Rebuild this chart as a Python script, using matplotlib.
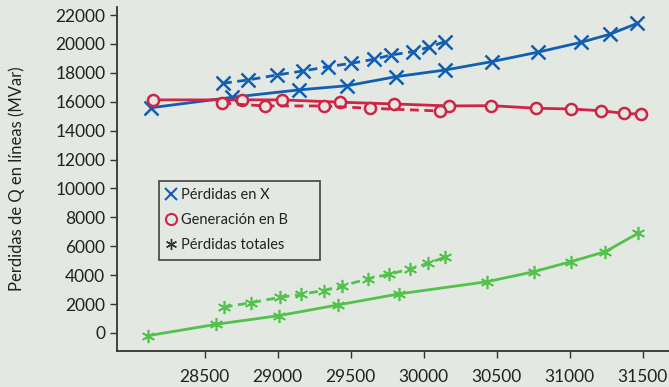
import matplotlib.pyplot as plt
from matplotlib.lines import Line2D

# Perdidas en X (solid / dashed)
x_px_sol = [28135, 28690, 29144, 29477, 29813, 30149, 30468, 30781, 31080, 31274, 31464]
y_px_sol = [15590, 16310, 16820, 17110, 17740, 18200, 18780, 19430, 20120, 20670, 21430]
x_px_das = [28625, 28797, 28998, 29173, 29345, 29505, 29658, 29779, 29927, 30036, 30144]
y_px_das = [17280, 17510, 17860, 18130, 18430, 18660, 18940, 19240, 19470, 19770, 20160]

# Generacion en B (solid / dashed)
x_gb_sol = [28146, 28758, 29032, 29425, 29795, 30171, 30464, 30772, 31007, 31212, 31372, 31486]
y_gb_sol = [16130, 16130, 16130, 15970, 15850, 15710, 15730, 15550, 15500, 15380, 15200, 15140]
x_gb_das = [28621, 28911, 29315, 29630, 30110]
y_gb_das = [15900, 15710, 15710, 15550, 15360]

# Perdidas totales (solid / dashed)
x_pt_sol = [28112, 28580, 29009, 29413, 29829, 30436, 30755, 31007, 31245, 31468]
y_pt_sol = [-190, 600, 1200, 1940, 2700, 3550, 4240, 4930, 5630, 6900]
x_pt_das = [28630, 28820, 29018, 29162, 29315, 29443, 29621, 29762, 29909, 30029, 30144]
y_pt_das = [1780, 2100, 2470, 2680, 2930, 3250, 3760, 4060, 4430, 4820, 5240]

labels = ['Pérdidas en X', 'Generación en B', 'Pérdidas totales']
ylabel = 'Perdidas de Q en líneas (MVar)'

bg = '#e3e8e3'
blue = '#115fb0'
red = '#d02446'
green = '#52c24a'
txt = '#222222'

plt.rcParams['font.family'] = ['Lato', 'DejaVu Sans']

fig = plt.figure(figsize=(6.69, 3.87), dpi=100, facecolor=bg)
ax = fig.add_axes([0.175, 0.093, 0.825, 0.889], facecolor=bg)

lw = 2.0
ast = (6, 2, 0)

ax.plot(x_px_sol, y_px_sol, color=blue, lw=lw, marker='x', ms=9.5, mew=1.8)
ax.plot(x_px_das, y_px_das, color=blue, lw=lw, ls=(0, (3.2, 2)), marker='x', ms=9.5, mew=1.8)

ax.plot(x_gb_sol, y_gb_sol, color=red, lw=lw, marker='o', ms=8, mew=1.8, mfc=bg)
ax.plot(x_gb_das, y_gb_das, color=red, lw=lw, ls=(0, (3.2, 2)), marker='o', ms=8, mew=1.8, mfc=bg)

ax.plot(x_pt_sol, y_pt_sol, color=green, lw=lw, marker=ast, ms=9.5, mew=1.2)
ax.plot(x_pt_das, y_pt_das, color=green, lw=lw, ls=(0, (3.2, 2)), marker=ast, ms=9.5, mew=1.2)

ax.set_xlim(27900, 31680)
ax.set_ylim(-1250, 22560)
ax.set_xticks(range(28500, 31501, 500))
ax.set_yticks(range(0, 22001, 2000))

for s in ['top', 'right']:
    ax.spines[s].set_visible(False)
for s in ['left', 'bottom']:
    ax.spines[s].set_color('#333333')
    ax.spines[s].set_linewidth(1.3)

ax.tick_params(colors='#333333', labelcolor=txt, labelsize=12.5, length=5, width=1)
ax.tick_params(axis='x', pad=8)
ax.set_ylabel(ylabel, fontsize=12, color=txt, labelpad=22)

handles = [
    Line2D([], [], ls='none', marker='x', color=blue, ms=8, mew=1.5),
    Line2D([], [], ls='none', marker='o', color=red, ms=8, mew=1.5, mfc=bg),
    Line2D([], [], ls='none', marker=ast, color='#333333', ms=8, mew=1.0),
]
leg = ax.legend(handles, labels, loc='upper left', bbox_to_anchor=(0.076, 0.258, 0.292, 0.236),
                mode='expand', borderaxespad=0, fontsize=10.5, frameon=True, fancybox=False,
                handlelength=0.6, handletextpad=0.4, labelspacing=0.75,
                borderpad=0.5, facecolor=bg, edgecolor='#404040')
leg.get_frame().set_linewidth(1.2)
leg.get_frame().set_alpha(1)
for t in leg.get_texts():
    t.set_color(txt)

fig.savefig('out.png', dpi=100, facecolor=bg)
